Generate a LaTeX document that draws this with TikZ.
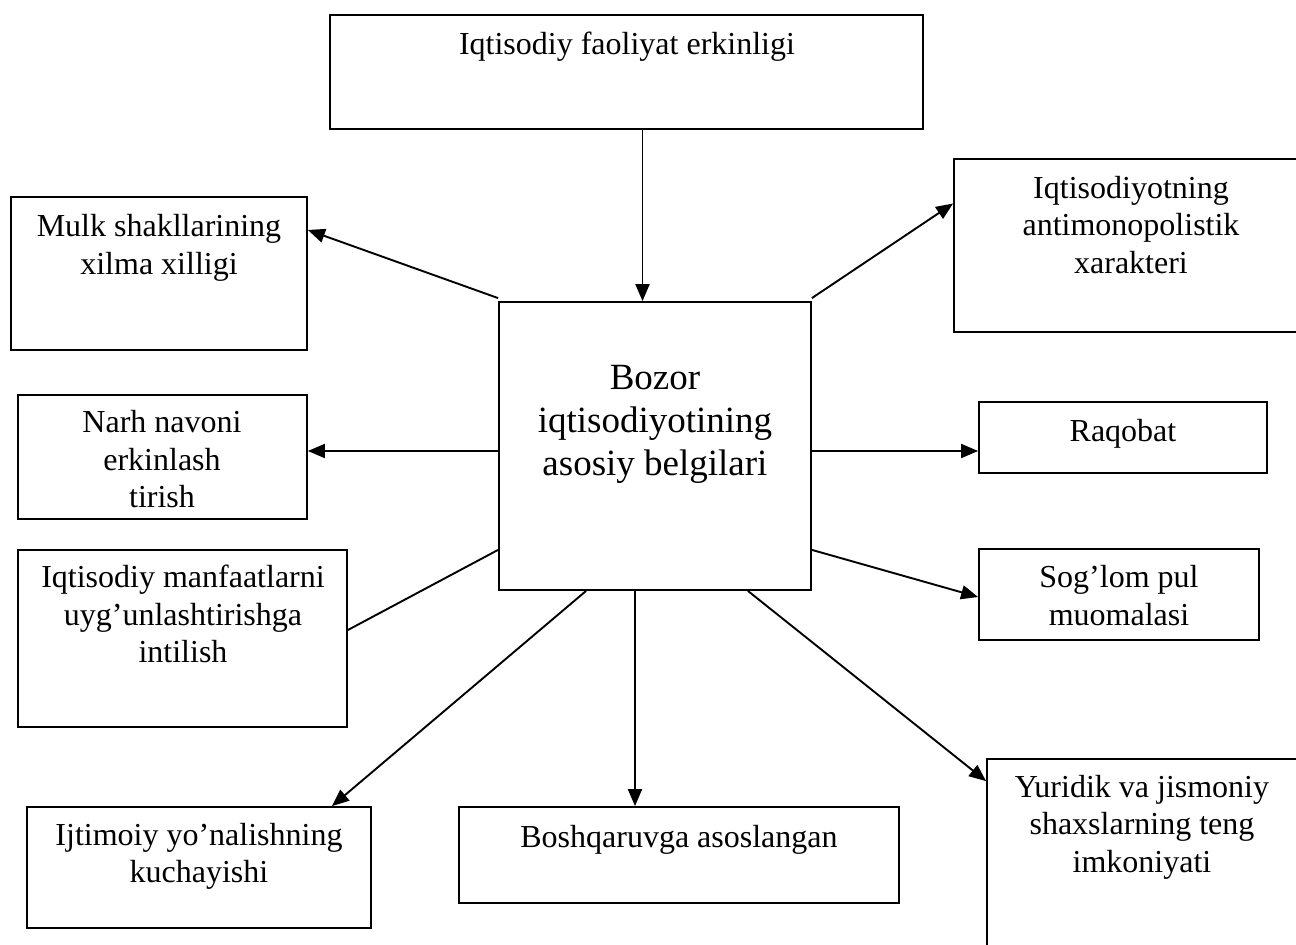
\documentclass[tikz,border=0pt]{standalone}
\usepackage{fontspec}
\setmainfont{Liberation Serif}
\usetikzlibrary{fit,arrows.meta}
\begin{document}
\begin{tikzpicture}[x=0.5pt,y=-0.5pt,
  box/.style={draw,line width=0.9pt,inner sep=0pt,rectangle},
  txt/.style={anchor=base,align=center,inner sep=0pt,font=\fontsize{16}{18.75}\selectfont},
  bigtxt/.style={anchor=base,align=center,inner sep=0pt,font=\fontsize{18.5}{21.5}\selectfont},
  conn/.style={line width=0.95pt},
  arr/.style={conn,-{Triangle[length=8.5pt,width=7pt]}}]
\useasboundingbox (0,0) rectangle (1296,945);
\clip (0,0) rectangle (1296,945);
\fill[white] (0,0) rectangle (1296,945);
% boxes
\node[box,fit={(330,15) (923,129)}] (top) {};
\node[box,fit={(499,302) (811,590)}] (center) {};
\node[box,fit={(11,197) (307,350)}] (mulk) {};
\node[box,fit={(18,395) (307,519)}] (narh) {};
\node[box,fit={(18,550) (347,727)}] (manf) {};
\node[box,fit={(27,807) (371,928)}] (ijt) {};
\node[box,fit={(459,807) (899,903)}] (bosh) {};
\node[box,fit={(954,159) (1310,332)}] (ant) {};
\node[box,fit={(979,402) (1267,473)}] (raq) {};
\node[box,fit={(979,549) (1259,640)}] (sog) {};
\node[box,fit={(987,759) (1300,960)}] (yur) {};
% texts (anchor = baseline of the last line)
\node[txt] (top-t) at (627,55) {Iqtisodiy faoliyat erkinligi};
\node[bigtxt] (center-t) at (655,476) {Bozor\\iqtisodiyotining\\asosiy belgilari};
\node[txt] (mulk-t) at (159,274.5) {Mulk shakllarining\\xilma xilligi};
\node[txt] (narh-t) at (162,508) {Narh navoni\\erkinlash\\tirish};
\node[txt] (manf-t) at (183,663) {Iqtisodiy manfaatlarni\\uyg’unlashtirishga\\intilish};
\node[txt] (ijt-t) at (199,883) {Ijtimoiy yo’nalishning\\kuchayishi};
\node[txt] (bosh-t) at (679,848) {Boshqaruvga asoslangan};
\node[txt] (ant-t) at (1131,273.5) {Iqtisodiyotning\\antimonopolistik\\xarakteri};
\node[txt] (raq-t) at (1123,442) {Raqobat};
\node[txt] (sog-t) at (1119,625.5) {Sog’lom pul\\muomalasi};
\node[txt] (yur-t) at (1142,872) {Yuridik va jismoniy\\shaxslarning teng\\imkoniyati};
% connectors
\draw[arr] ([xshift=8pt]top.south) -- ([xshift=8pt]top.south |- center.north);
\draw[arr] ([yshift=1.5pt]center.north west) -- ([yshift=21.75pt]mulk.east);
\draw[arr] ([yshift=-2.5pt]center.west) -- ([yshift=-2.5pt]center.west -| narh.east);
\draw[conn] ([yshift=20.5pt]center.south west) -- ([yshift=4.25pt]manf.east);
\draw[arr] ([xshift=44pt]center.south west) -- ([xshift=66.5pt]ijt.north);
\draw[arr] ([xshift=-10pt]center.south) -- ([xshift=-10pt]center.south |- bosh.north);
\draw[arr] ([xshift=-32pt]center.south east) -- ([yshift=-11.5pt]yur.north west);
\draw[arr] ([yshift=20.5pt]center.south east) -- ([yshift=-1.25pt]sog.west);
\draw[arr] ([yshift=-2.5pt]center.east) -- ([yshift=-2.5pt]center.east -| raq.west);
\draw[arr] ([yshift=1.5pt]center.north east) -- ([yshift=21pt]ant.west);
\end{tikzpicture}
\end{document}
